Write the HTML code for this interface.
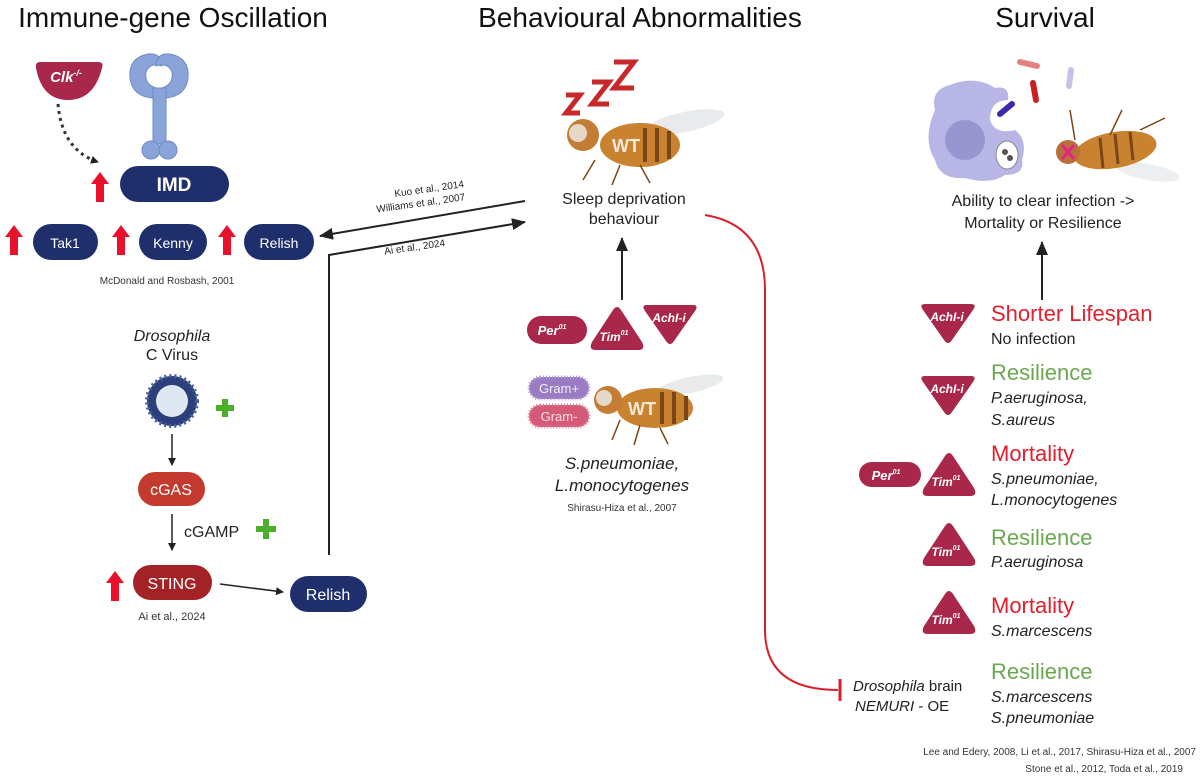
<!DOCTYPE html>
<html><head><meta charset="utf-8"><style>
html,body{margin:0;padding:0;background:#fff;}
svg{display:block;font-family:"Liberation Sans",sans-serif;}
</style></head><body>
<svg width="1200" height="777" viewBox="0 0 1200 777" xmlns="http://www.w3.org/2000/svg">
<defs>
<marker id="ah" markerWidth="8" markerHeight="8" refX="7" refY="4" orient="auto" markerUnits="userSpaceOnUse"><path d="M0,0 L8,4 L0,8 z" fill="#222"/></marker>
<marker id="ahb" markerWidth="14" markerHeight="12" refX="13" refY="6" orient="auto" markerUnits="userSpaceOnUse"><path d="M0,0 L14,6 L0,12 z" fill="#222"/></marker>
<g id="uparrow"><path d="M-4,0 V-18 H-9 L0,-30 L9,-18 H4 V0 z" fill="#e8102a"/></g>
<g id="tridown"><path d="M4,0 H50 Q56,0 52,6 L31,36 Q27,42 23,36 L2,6 Q-2,0 4,0 z" fill="#a8274a"/></g>
<g id="triup"><path d="M23,0 Q27,-6 31,0 L52,32 Q56,40 48,40 H6 Q-2,40 2,32 z" fill="#a8274a"/></g>
</defs>

<!-- Titles -->
<text x="173" y="27" font-size="28" text-anchor="middle" fill="#111">Immune-gene Oscillation</text>
<text x="640" y="27" font-size="28" text-anchor="middle" fill="#111">Behavioural Abnormalities</text>
<text x="1045" y="27" font-size="28" text-anchor="middle" fill="#111">Survival</text>

<!-- Clk -->
<path d="M36,66 Q36,62 40,62 H98 Q104,62 102,68 Q94,100 68,100 Q42,100 36,68 z" fill="#a8274a"/>
<text x="66" y="82" font-size="15" font-style="italic" font-weight="bold" fill="#fff" text-anchor="middle">Clk<tspan font-size="9" dy="-6">-/-</tspan></text>
<path d="M58,104 Q62,150 98,162" fill="none" stroke="#333" stroke-width="3" stroke-dasharray="3,4" marker-end="url(#ah)"/>
<!-- receptor -->
<g fill="#8aa3d8" stroke="#6f8bc7" stroke-width="1">
<path d="M152,98 Q132,96 130,78 Q128,58 148,54 Q162,53 162,66 Q150,62 146,72 Q144,84 156,88 z"/>
<path d="M166,98 Q186,96 188,78 Q190,58 170,54 Q156,53 156,66 Q168,62 172,72 Q174,84 162,88 z"/>
<rect x="153" y="88" width="13" height="56"/>
<ellipse cx="151" cy="150" rx="9" ry="9"/><ellipse cx="168" cy="150" rx="9" ry="9"/>
</g>
<rect x="120" y="166" width="109" height="36" rx="18" fill="#1f2f6b"/>
<text x="174" y="191" font-size="19" font-weight="bold" fill="#fff" text-anchor="middle">IMD</text>
<use href="#uparrow" x="100" y="202"/>
<!-- row -->
<rect x="33" y="224" width="65" height="36" rx="18" fill="#1f2f6b"/>
<text x="65" y="248" font-size="14" fill="#fff" text-anchor="middle">Tak1</text>
<rect x="139" y="224" width="68" height="36" rx="18" fill="#1f2f6b"/>
<text x="173" y="248" font-size="14" fill="#fff" text-anchor="middle">Kenny</text>
<rect x="244" y="224" width="70" height="36" rx="18" fill="#1f2f6b"/>
<text x="279" y="248" font-size="14" fill="#fff" text-anchor="middle">Relish</text>
<use href="#uparrow" x="14" y="255"/>
<use href="#uparrow" x="121" y="255"/>
<use href="#uparrow" x="227" y="255"/>
<text x="167" y="284" font-size="10" fill="#333" text-anchor="middle">McDonald and Rosbash, 2001</text>

<!-- virus -->
<text x="172" y="341" font-size="16" font-style="italic" fill="#222" text-anchor="middle">Drosophila</text>
<text x="172" y="360" font-size="16" fill="#222" text-anchor="middle">C Virus</text>
<circle cx="172" cy="401" r="25" fill="#2c3f7a" stroke="#4a5f9a" stroke-width="4" stroke-dasharray="2,3"/>
<circle cx="172" cy="401" r="16" fill="#dfe8f2"/>
<path d="M216,408 h18 M225,399 v18" stroke="#4caf2a" stroke-width="6"/>
<line x1="172" y1="434" x2="172" y2="465" stroke="#222" stroke-width="1.5" marker-end="url(#ah)"/>
<rect x="138" y="472" width="67" height="34" rx="17" fill="#c43a2f"/>
<text x="171" y="495" font-size="16" fill="#fff" text-anchor="middle">cGAS</text>
<line x1="172" y1="514" x2="172" y2="550" stroke="#222" stroke-width="1.5" marker-end="url(#ah)"/>
<text x="184" y="537" font-size="16" fill="#222">cGAMP</text>
<path d="M256,529 h20 M266,519 v20" stroke="#4caf2a" stroke-width="6"/>
<rect x="133" y="565" width="79" height="35" rx="17.5" fill="#a32225"/>
<text x="172" y="589" font-size="16" fill="#fff" text-anchor="middle">STING</text>
<use href="#uparrow" x="115" y="601"/>
<text x="172" y="620" font-size="11" fill="#333" text-anchor="middle">Ai et al., 2024</text>
<line x1="220" y1="584" x2="283" y2="592" stroke="#222" stroke-width="1.5" marker-end="url(#ah)"/>
<rect x="290" y="576" width="77" height="36" rx="18" fill="#1f2f6b"/>
<text x="328" y="600" font-size="16" fill="#fff" text-anchor="middle">Relish</text>

<!-- connectors left-middle -->
<polyline points="329,555 329,255 525,222" fill="none" stroke="#222" stroke-width="2" marker-end="url(#ahb)"/>
<line x1="525" y1="201" x2="320" y2="236" stroke="#222" stroke-width="2" marker-end="url(#ahb)"/>
<g transform="rotate(-8 430 195)" font-size="10" fill="#222">
<text x="395" y="192">Kuo et al., 2014</text>
<text x="375" y="205">Williams et al., 2007</text>
</g>
<text x="384" y="251" font-size="10" fill="#222" transform="rotate(-8 410 247)">Ai et al., 2024</text>

<!-- middle: zzz and fly -->
<g fill="none" stroke="#c8282a" stroke-width="5" stroke-linejoin="miter">
<path d="M566,95 h14 l-14,18 h14"/>
<path d="M592,82 h17 l-17,22 h17"/>
<path d="M614,62 h20 l-20,26 h20"/>
</g>
<g>
<ellipse cx="685" cy="122" rx="40" ry="10" fill="#e8eaec" transform="rotate(-12 685 122)"/>
<ellipse cx="640" cy="145" rx="40" ry="22" fill="#c9822f"/>
<ellipse cx="583" cy="135" rx="16" ry="16" fill="#c47d35"/>
<circle cx="578" cy="133" r="9" fill="#e5d8c8"/>
<path d="M645,128 v34 M657,128 v34 M669,131 v28" stroke="#7a4618" stroke-width="4"/>
<text x="612" y="152" font-size="18" fill="#f5eadb" font-weight="bold">WT</text>
<path d="M595,160 l-12,20 M620,165 l-8,20 M640,165 l10,18" stroke="#7a4618" stroke-width="1.5"/>
</g>
<text x="624" y="204" font-size="16" fill="#222" text-anchor="middle">Sleep deprivation</text>
<text x="624" y="224" font-size="16" fill="#222" text-anchor="middle">behaviour</text>
<line x1="622" y1="300" x2="622" y2="238" stroke="#222" stroke-width="2" marker-end="url(#ahb)"/>
<rect x="527" y="316" width="60" height="28" rx="14" fill="#a8274a"/>
<text x="552" y="335" font-size="13" font-style="italic" font-weight="bold" fill="#fff" text-anchor="middle">Per<tspan font-size="7" dy="-6">01</tspan></text>
<use href="#triup" x="590" y="310"/>
<text x="614" y="341" font-size="12" font-style="italic" font-weight="bold" fill="#fff" text-anchor="middle">Tim<tspan font-size="7" dy="-6">01</tspan></text>
<use href="#tridown" x="643" y="305"/>
<text x="669" y="322" font-size="12" font-style="italic" font-weight="bold" fill="#fff" text-anchor="middle">AchI-i</text>
<rect x="529" y="377" width="60" height="22" rx="11" fill="#9b7bc4" stroke="#b49bd8" stroke-width="3" stroke-dasharray="1,2"/>
<text x="559" y="393" font-size="13" fill="#eee" text-anchor="middle">Gram+</text>
<rect x="529" y="405" width="60" height="22" rx="11" fill="#d45a78" stroke="#e07a92" stroke-width="3" stroke-dasharray="1,2"/>
<text x="559" y="421" font-size="13" text-anchor="middle" style="fill:#f6dde3">Gram-</text>
<g>
<ellipse cx="690" cy="385" rx="34" ry="8" fill="#e8eaec" transform="rotate(-12 690 385)"/>
<ellipse cx="655" cy="408" rx="38" ry="20" fill="#c9822f"/>
<ellipse cx="608" cy="400" rx="14" ry="14" fill="#c47d35"/>
<circle cx="604" cy="398" r="8" fill="#e5d8c8"/>
<path d="M662,392 v32 M674,392 v32 M686,396 v24" stroke="#7a4618" stroke-width="4"/>
<text x="628" y="415" font-size="18" fill="#f5eadb" font-weight="bold">WT</text>
<path d="M620,420 l-8,20 M640,425 l-6,20 M660,428 l8,16" stroke="#7a4618" stroke-width="1.5"/>
</g>
<text x="622" y="469" font-size="17" font-style="italic" fill="#222" text-anchor="middle">S.pneumoniae,</text>
<text x="622" y="491" font-size="17" font-style="italic" fill="#222" text-anchor="middle">L.monocytogenes</text>
<text x="622" y="511" font-size="10" fill="#333" text-anchor="middle">Shirasu-Hiza et al., 2007</text>

<!-- red inhibition line -->
<path d="M705,215 Q765,225 765,290 V630 Q765,690 838,690" fill="none" stroke="#d8202a" stroke-width="2"/>
<line x1="840" y1="679" x2="840" y2="701" stroke="#d8202a" stroke-width="3"/>

<!-- right: macrophage -->
<path d="M935,110 Q930,90 950,85 Q975,75 995,88 Q1010,85 1008,100 Q990,100 990,120 Q995,135 1015,130 Q1028,140 1022,160 Q1025,175 1005,175 Q990,185 965,178 Q940,180 935,160 Q922,140 935,110 z" fill="#b7b6e6"/>
<circle cx="965" cy="140" r="20" fill="#9796cf"/>
<ellipse cx="1007" cy="155" rx="11" ry="14" fill="#fff" stroke="#888" stroke-width="1"/>
<circle cx="1005" cy="152" r="3" fill="#555"/><circle cx="1010" cy="158" r="3" fill="#555"/>
<line x1="1000" y1="114" x2="1012" y2="104" stroke="#3a2aa8" stroke-width="6" stroke-linecap="round"/>
<line x1="1020" y1="62" x2="1037" y2="66" stroke="#e38080" stroke-width="6" stroke-linecap="round"/>
<line x1="1033" y1="83" x2="1036" y2="100" stroke="#cc2020" stroke-width="6" stroke-linecap="round"/>
<line x1="1071" y1="70" x2="1069" y2="86" stroke="#c8c0e8" stroke-width="6" stroke-linecap="round"/>
<ellipse cx="1148" cy="172" rx="32" ry="8" fill="#eceef0" transform="rotate(10 1148 172)"/>
<ellipse cx="1115" cy="150" rx="42" ry="18" fill="#c9822f" transform="rotate(-10 1115 150)"/>
<circle cx="1068" cy="152" r="12" fill="#b8703a"/>
<path d="M1062,145 l12,14 M1074,145 l-12,14" stroke="#e8208a" stroke-width="3"/>
<path d="M1100,138 l3,30 M1115,134 l3,30 M1130,132 l3,28" stroke="#7a4618" stroke-width="3"/>
<path d="M1075,140 l-5,-30 M1110,135 l12,-25 M1140,130 l25,-12" stroke="#7a4618" stroke-width="1.5"/>
<text x="1043" y="206" font-size="16" fill="#222" text-anchor="middle">Ability to clear infection -&gt;</text>
<text x="1043" y="228" font-size="16" fill="#222" text-anchor="middle">Mortality or Resilience</text>
<line x1="1042" y1="300" x2="1042" y2="242" stroke="#222" stroke-width="2" marker-end="url(#ahb)"/>

<!-- right rows -->
<use href="#tridown" x="921" y="304"/>
<text x="947" y="321" font-size="12" font-style="italic" font-weight="bold" fill="#fff" text-anchor="middle">AchI-i</text>
<text x="991" y="321" font-size="22" fill="#e0202e">Shorter Lifespan</text>
<text x="991" y="344" font-size="16" fill="#222">No infection</text>

<use href="#tridown" x="921" y="376"/>
<text x="947" y="393" font-size="12" font-style="italic" font-weight="bold" fill="#fff" text-anchor="middle">AchI-i</text>
<text x="991" y="380" font-size="22" fill="#6aa84f">Resilience</text>
<text x="991" y="403" font-size="16" font-style="italic" fill="#222">P.aeruginosa,</text>
<text x="991" y="425" font-size="16" font-style="italic" fill="#222">S.aureus</text>

<rect x="859" y="462" width="62" height="25" rx="12.5" fill="#a8274a"/>
<text x="886" y="480" font-size="13" font-style="italic" font-weight="bold" fill="#fff" text-anchor="middle">Per<tspan font-size="7" dy="-6">01</tspan></text>
<use href="#triup" x="922" y="456"/>
<text x="946" y="486" font-size="12" font-style="italic" font-weight="bold" fill="#fff" text-anchor="middle">Tim<tspan font-size="7" dy="-6">01</tspan></text>
<text x="991" y="461" font-size="22" fill="#e0202e">Mortality</text>
<text x="991" y="484" font-size="16" font-style="italic" fill="#222">S.pneumoniae,</text>
<text x="991" y="505" font-size="16" font-style="italic" fill="#222">L.monocytogenes</text>

<use href="#triup" x="922" y="526"/>
<text x="946" y="556" font-size="12" font-style="italic" font-weight="bold" fill="#fff" text-anchor="middle">Tim<tspan font-size="7" dy="-6">01</tspan></text>
<text x="991" y="545" font-size="22" fill="#6aa84f">Resilience</text>
<text x="991" y="567" font-size="16" font-style="italic" fill="#222">P.aeruginosa</text>

<use href="#triup" x="922" y="594"/>
<text x="946" y="624" font-size="12" font-style="italic" font-weight="bold" fill="#fff" text-anchor="middle">Tim<tspan font-size="7" dy="-6">01</tspan></text>
<text x="991" y="613" font-size="22" fill="#e0202e">Mortality</text>
<text x="991" y="636" font-size="16" font-style="italic" fill="#222">S.marcescens</text>

<text x="853" y="691" font-size="15" fill="#222"><tspan font-style="italic">Drosophila</tspan> brain</text>
<text x="855" y="711" font-size="15" fill="#222"><tspan font-style="italic">NEMURI</tspan> - OE</text>
<text x="991" y="679" font-size="22" fill="#6aa84f">Resilience</text>
<text x="991" y="702" font-size="16" font-style="italic" fill="#222">S.marcescens</text>
<text x="991" y="723" font-size="16" font-style="italic" fill="#222">S.pneumoniae</text>

<text x="1196" y="755" font-size="10" fill="#333" text-anchor="end">Lee and Edery, 2008, Li et al., 2017, Shirasu-Hiza et al., 2007</text>
<text x="1183" y="772" font-size="10" fill="#333" text-anchor="end">Stone et al., 2012, Toda et al., 2019</text>
</svg>
</body></html>
